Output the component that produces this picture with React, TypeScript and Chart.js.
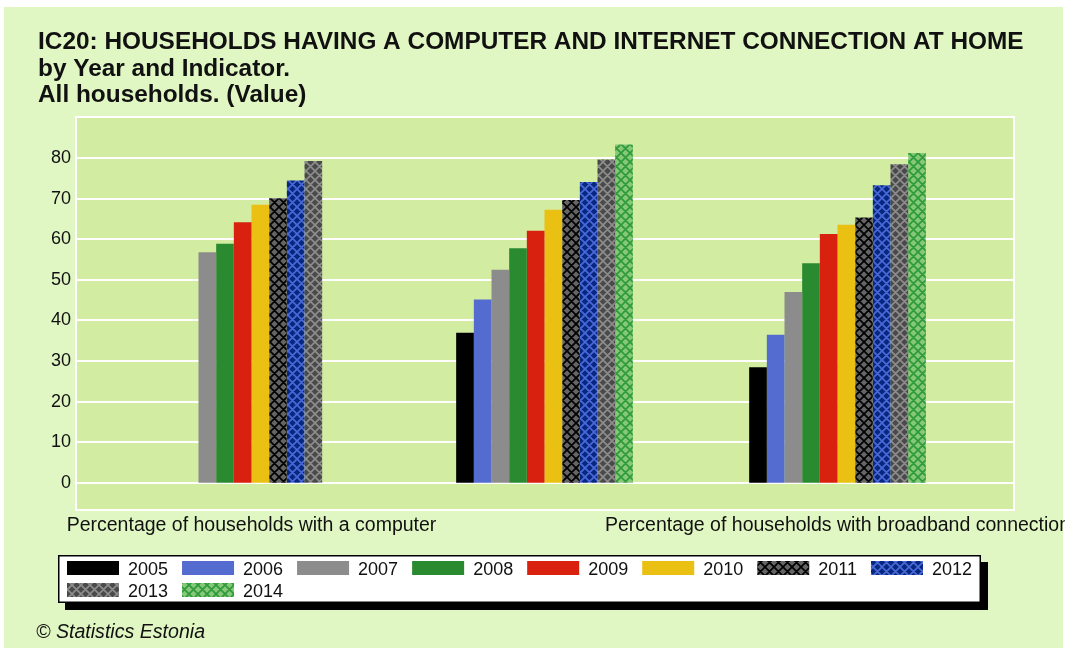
import React, { useEffect, useRef } from 'react';
import { Chart, registerables } from 'chart.js';

Chart.register(...registerables);

// ---------- data ----------
const categories = [
  'Percentage of households with a computer',
  'Percentage of households with Internet connection',
  'Percentage of households with broadband connection',
];
const years = ['2005', '2006', '2007', '2008', '2009', '2010', '2011', '2012', '2013', '2014'];
const v2005 = [null, 37.0, 28.5];
const v2006 = [null, 45.2, 36.5];
const v2007 = [56.8, 52.5, 47.0];
const v2008 = [58.9, 57.8, 54.1];
const v2009 = [64.2, 62.1, 61.3];
const v2010 = [68.5, 67.3, 63.6];
const v2011 = [70.1, 69.7, 65.4];
const v2012 = [74.5, 74.1, 73.3];
const v2013 = [79.3, 79.7, 78.5];
const v2014 = [null, 83.4, 81.3];
const seriesValues = [v2005, v2006, v2007, v2008, v2009, v2010, v2011, v2012, v2013, v2014];
const yTicks = [0, 10, 20, 30, 40, 50, 60, 70, 80];

const titleLines = [
  'IC20: HOUSEHOLDS HAVING A COMPUTER AND INTERNET CONNECTION AT HOME',
  'by Year and Indicator.',
  'All households. (Value)',
];
const footerText = '\u00A9 Statistics Estonia';

// ---------- styles ----------
const OUTER_BG = '#E1F7C3';
const PLOT_BG = '#D2EDA1';
const TEXT = '#111111';
const FONT = '"Liberation Sans", Arial, sans-serif';

function makePattern(base: string, line: string) {
  const s = 9;
  const c = document.createElement('canvas');
  c.width = s;
  c.height = s;
  const g = c.getContext('2d')!;
  g.fillStyle = base;
  g.fillRect(0, 0, s, s);
  g.strokeStyle = line;
  g.lineWidth = 1.7;
  g.beginPath();
  for (const k of [-s, 0, s]) {
    g.moveTo(-1 + k, -1);
    g.lineTo(s + 1 + k, s + 1);
    g.moveTo(s + 1 + k, -1);
    g.lineTo(-1 + k, s + 1);
  }
  g.stroke();
  return g.createPattern(c, 'repeat')!;
}

function buildColors() {
  return [
    '#000000',
    '#546BD0',
    '#8C8C8C',
    '#2A8A30',
    '#D8210F',
    '#EAC012',
    makePattern('#646464', '#000000'),
    makePattern('#06297F', '#4C68D8'),
    makePattern('#4A4A4A', '#8C8C8C'),
    makePattern('#86C878', '#2E9A3A'),
  ];
}

const decorPlugin = {
  id: 'decor',
  beforeDraw(chart: any) {
    const { ctx, chartArea: a, scales } = chart;
    const y = scales.y;
    ctx.save();
    ctx.fillStyle = '#ffffff';
    ctx.fillRect(0, 0, chart.width, chart.height);
    ctx.fillStyle = OUTER_BG;
    ctx.fillRect(4, 7, chart.width - 6, chart.height - 9);
    const L = a.left - 29;
    const R = a.right + 30;
    const T = a.top - 1;
    const B = a.bottom;
    ctx.fillStyle = PLOT_BG;
    ctx.fillRect(L, T, R - L, B - T);
    ctx.strokeStyle = '#ffffff';
    ctx.lineWidth = 2;
    ctx.strokeRect(L, T, R - L, B - T);
    for (const t of yTicks) {
      const py = Math.round(y.getPixelForValue(t));
      ctx.beginPath();
      ctx.moveTo(L, py);
      ctx.lineTo(R, py);
      ctx.stroke();
    }
    ctx.restore();
  },
  afterDraw(chart: any) {
    const { ctx, scales } = chart;
    const x = scales.x;
    ctx.save();
    ctx.fillStyle = TEXT;
    ctx.textBaseline = 'alphabetic';

    // title
    ctx.textAlign = 'left';
    ctx.font = `bold 24.4px ${FONT}`;
    const baselines = [49, 75.5, 102];
    titleLines.forEach((t, i) => ctx.fillText(t, 38, baselines[i]));

    // category labels (skip overlapping ones, like auto-skip)
    ctx.font = `19.5px ${FONT}`;
    ctx.textAlign = 'center';
    let lastRight = -Infinity;
    categories.forEach((c, i) => {
      const cx = x.getPixelForValue(i);
      const w = ctx.measureText(c).width;
      if (cx - w / 2 > lastRight + 6) {
        ctx.fillText(c, cx, 531);
        lastRight = cx + w / 2;
      }
    });

    // legend
    const ds = chart.data.datasets;
    ctx.font = `18px ${FONT}`;
    ctx.textAlign = 'left';
    const startX = 67;
    const sw = 52;
    const sh = 14;
    const gap = 9;
    const itemPad = 14;
    const rowTop = [561, 583];
    const limit = 976;
    const items: { x: number; row: number; i: number }[] = [];
    let cx = startX;
    let row = 0;
    let maxRight = 0;
    ds.forEach((d: any, i: number) => {
      const tw = ctx.measureText(d.label).width;
      if (cx + sw + gap + tw > limit) {
        row += 1;
        cx = startX;
      }
      items.push({ x: cx, row, i });
      maxRight = Math.max(maxRight, cx + sw + gap + tw);
      cx += sw + gap + tw + itemPad;
    });
    const bx = 58;
    const by = 555;
    const bw = maxRight + 9 - bx;
    const bh = 48;
    ctx.fillStyle = '#000000';
    ctx.fillRect(bx + 7, by + 7, bw, bh);
    ctx.fillStyle = '#ffffff';
    ctx.fillRect(bx, by, bw, bh);
    ctx.strokeStyle = '#000000';
    ctx.lineWidth = 1.5;
    ctx.strokeRect(bx + 0.75, by + 0.75, bw - 1.5, bh - 1.5);
    items.forEach(({ x: ix, row: r, i }) => {
      const top = rowTop[r];
      ctx.fillStyle = ds[i].backgroundColor;
      ctx.fillRect(ix, top, sw, sh);
      ctx.fillStyle = TEXT;
      ctx.fillText(ds[i].label, ix + sw + gap, top + 14);
    });

    // footer
    ctx.font = `italic 19.6px ${FONT}`;
    ctx.fillStyle = TEXT;
    ctx.fillText(footerText, 36, 638);
    ctx.restore();
  },
};

export default function App() {
  const ref = useRef<HTMLCanvasElement | null>(null);
  useEffect(() => {
    if (!ref.current) return;
    const colors = buildColors();
    const chart = new Chart(ref.current, {
      type: 'bar',
      data: {
        labels: categories,
        datasets: years.map((yr, i) => ({
          label: yr,
          data: seriesValues[i],
          backgroundColor: colors[i],
          borderWidth: 0,
          categoryPercentage: 0.603,
          barPercentage: 1,
        })),
      },
      options: {
        responsive: false,
        animation: false,
        events: [],
        layout: { padding: { left: 45, right: 81, top: 118, bottom: 140 } },
        plugins: {
          legend: { display: false },
          title: { display: false },
          tooltip: { enabled: false },
        },
        scales: {
          x: {
            display: false,
            offset: true,
            grid: { display: false },
          },
          y: {
            min: -6.7,
            max: 89.9,
            grid: { display: false, drawTicks: false },
            border: { display: false },
            afterBuildTicks: (s: any) => {
              s.ticks = yTicks.map((v) => ({ value: v }));
            },
            afterFit: (s: any) => {
              s.width = 60;
            },
            ticks: {
              padding: 34,
              color: TEXT,
              font: { family: FONT, size: 18 },
              autoSkip: false,
            },
          },
        },
      },
      plugins: [decorPlugin],
    });
    return () => chart.destroy();
  }, []);
  return (
    <div style={{ position: 'absolute', left: 0, top: 0, width: 1065, height: 650 }}>
      <canvas ref={ref} width={1065} height={650} style={{ display: 'block', width: 1065, height: 650 }} />
    </div>
  );
}
